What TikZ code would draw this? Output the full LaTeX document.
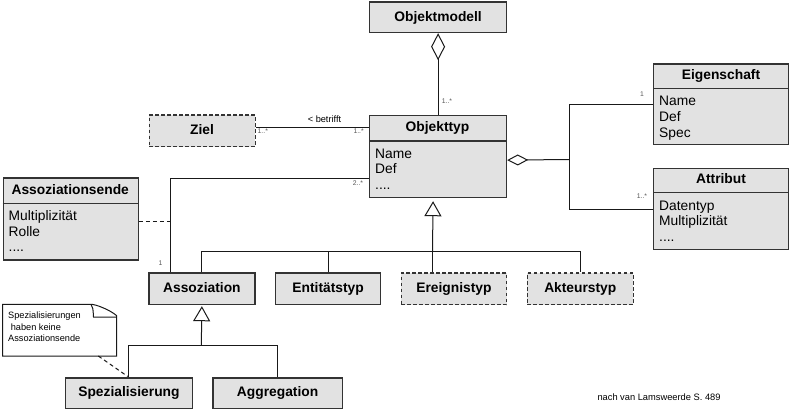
\documentclass[tikz,border=0pt]{standalone}
\usepackage{fontspec}
\setmainfont{Liberation Sans}
\usetikzlibrary{arrows.meta,shapes.geometric}
\definecolor{boxgray}{HTML}{E2E2E2}
\definecolor{edge}{HTML}{333333}
\definecolor{multgray}{HTML}{555555}

\begin{document}
\begin{tikzpicture}[x=1pt,y=-1pt,
  box/.style={draw=edge, fill=boxgray, line width=1.2pt, inner sep=0pt, anchor=north west,
    font=\fontsize{13.8}{16}\selectfont\bfseries, text height=9.9pt, text depth=2.5pt},
  dbox/.style={box, dash pattern=on 3.4pt off 2.6pt},
  sepline/.style={draw=edge, line width=1.2pt},
  title/.style={inner sep=0pt, font=\fontsize{13.8}{16}\selectfont\bfseries, text height=9.9pt, text depth=2.5pt},
  attr/.style={inner sep=0pt, anchor=base west, font=\fontsize{13.8}{16}\selectfont},
  conn/.style={draw=black!90, line width=1pt},
  mult/.style={inner sep=0pt, anchor=base west, font=\fontsize{6.8}{8}\selectfont, text=multgray},
  gen/.style={conn, -{Triangle[open, length=15pt, width=17pt]}},
  small/.style={inner sep=0pt, anchor=base west, font=\fontsize{9.2}{11}\selectfont},
]
\useasboundingbox (0,0) rectangle (789,409);

% ---- classes ----
\node[box, minimum width=137, minimum height=30.5] (om) at (369,1.5) {Objektmodell};

\node[box, minimum width=137, minimum height=82] (ot) at (369,115) {};
\draw[sepline] (369,141) -- (506,141);
\node[title] at (437.5,128) {Objekttyp};
\node[attr] at (375,158) {Name};
\node[attr] at (375,173.7) {Def};
\node[attr] at (375,189.4) {....};

\node[dbox, minimum width=106, minimum height=31.5] (zi) at (148.5,114.5) {Ziel};

\node[box, minimum width=135, minimum height=80] (eig) at (653,63.5) {};
\draw[sepline] (653,88.5) -- (788,88.5);
\node[title] at (721,76) {Eigenschaft};
\node[attr] at (659,105.7) {Name};
\node[attr] at (659,121.4) {Def};
\node[attr] at (659,137.1) {Spec};

\node[box, minimum width=135, minimum height=81.5] (att) at (653,167.5) {};
\draw[sepline] (653,192.7) -- (788,192.7);
\node[title] at (721,180.1) {Attribut};
\node[attr] at (659,210) {Datentyp};
\node[attr] at (659,225.7) {Multiplizität};
\node[attr] at (659,241.4) {....};

\node[box, minimum width=135, minimum height=82] (ae) at (2.7,177.3) {};
\draw[sepline] (2.7,203.3) -- (137.7,203.3);
\node[title] at (70.2,190.3) {Assoziationsende};
\node[attr] at (8.5,220.5) {Multiplizität};
\node[attr] at (8.5,236.2) {Rolle};
\node[attr] at (8.5,251.9) {....};

\node[box, minimum width=106, minimum height=31.7] (as) at (148.3,272.3) {Assoziation};
\node[box, minimum width=105, minimum height=31.7] (en) at (275,272.3) {Entitätstyp};
\node[dbox, minimum width=105.3, minimum height=31.7] (er) at (400.7,272.3) {Ereignistyp};
\node[dbox, minimum width=106, minimum height=31.7] (ak) at (526.7,272.3) {Akteurstyp};

\node[box, minimum width=126.7, minimum height=30.7] (sp) at (65,377.3) {Spezialisierung};
\node[box, minimum width=129.4, minimum height=30.7] (ag) at (212.3,377.3) {Aggregation};

% ---- note with folded corner ----
\draw[draw=black!90, line width=1pt, fill=white] (2.7,304.3) -- (91,304.3)
  .. controls (96,304.3) and (110,310) .. (116.5,315.5) -- (116.5,356) -- (2.7,356) -- cycle;
\draw[draw=black!90, line width=1pt] (91,304.3) .. controls (93,308) .. (93.5,317) -- (116.5,317);
\node[small] (n1) at (8,318.5) {Spezialisierungen};
\node[small] (n2) at (10.6,330) {haben keine};
\node[small] (n3) at (8,341.5) {Assoziationsende};
\coordinate (nb) at (98.3,356);
\draw[conn, dash pattern=on 4pt off 3pt, shorten >=1.5pt] (nb) -- (sp.north);

% ---- connectors ----
% Objektmodell aggregates Objekttyp
\draw[conn, {Diamond[open, length=27pt, width=14pt]}-] (om.south) -- (ot.north);
\node[mult] at (441.7,103) {1..*};

% Ziel -- Objekttyp
\draw[conn] ([yshift=3.75pt]zi.east) -- ([yshift=29.5pt]ot.west);
\node[small, anchor=base] at (324.5,122.3) {< betrifft};
\node[mult] at (257.5,133.7) {1..*};
\node[mult] at (353.3,133.7) {1..*};

% Objekttyp -- Assoziation
\coordinate (a1) at (170.5,177.5);
\draw[conn] ([yshift=-21.5pt]ot.west) -| (a1 |- as.north);
\node[mult] at (352.7,185.5) {2..*};
\node[mult] at (158.3,265) {1};
\coordinate (ad) at ([yshift=-2.2pt]ae.east);
\draw[conn, dash pattern=on 4pt off 3pt] (ad) -- (ad -| a1);

% Objekttyp aggregates Eigenschaft / Attribut
\coordinate (j1) at (569.5,159.5);
\draw[conn, {Diamond[open, length=21pt, width=11pt]}-] ([yshift=-3.5pt]ot.east) -- (j1);
\draw[conn] ([yshift=-0.5pt]eig.west) -| (j1) |- ([yshift=-0.25pt]att.west);
\node[mult] at (640,96.5) {1};
\node[mult] at (636.7,198.5) {1..*};

% generalisations of Objekttyp
\coordinate (g1) at (432.5,251.5);
\draw[gen, shorten >=3pt] (g1) -- ([xshift=-5pt]ot.south);
\draw[conn] (g1) -- (g1 |- er.north);
\draw[conn] (as.north) |- (g1) -| (ak.north);
\draw[conn] (en.north) -- (en.north |- g1);

% generalisations of Assoziation
\coordinate (g2) at (201.3,345.5);
\draw[gen, shorten >=1pt] (g2) -- (as.south);
\draw[conn] (sp.north) |- (g2) -| (ag.north);

% source
\node[small, font=\fontsize{9.3}{11}\selectfont] at (597.3,400) {nach van Lamsweerde S. 489};
\end{tikzpicture}
\end{document}
